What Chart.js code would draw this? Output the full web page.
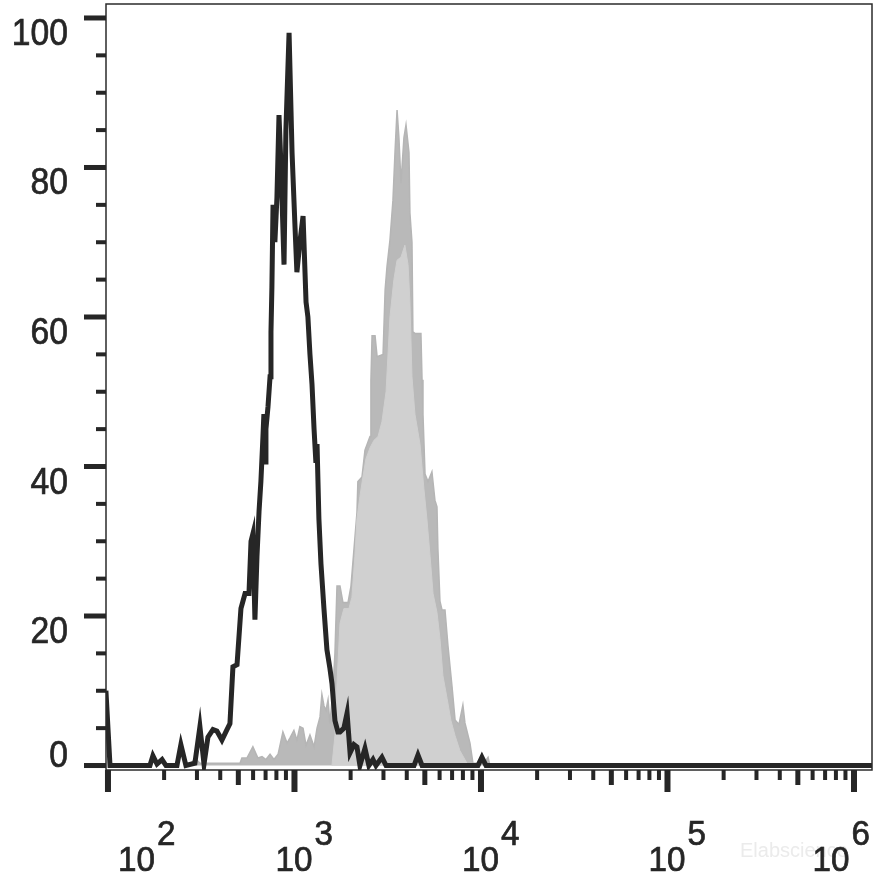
<!DOCTYPE html>
<html>
<head>
<meta charset="utf-8">
<script src="https://cdn.jsdelivr.net/npm/chart.js@4.4.1/dist/chart.umd.min.js"></script>
<style>
  html, body { margin: 0; padding: 0; background: #fff; }
  #wrap { width: 882px; height: 883px; position: relative; }
</style>
</head>
<body>
<div id="wrap"><canvas id="histo"></canvas></div>
<script>
// log10 of fluorescence intensity, and % of max
const blackLog = [
  1.989, 2.011, 2.225, 2.241, 2.263, 2.290, 2.311, 2.370, 2.391, 2.418,
  2.466, 2.493, 2.515, 2.536, 2.563, 2.584, 2.611, 2.638, 2.654, 2.670,
  2.692, 2.713, 2.735, 2.756, 2.767, 2.777, 2.788, 2.799, 2.810, 2.820,
  2.831, 2.836, 2.842, 2.847, 2.858, 2.869, 2.874, 2.879, 2.885, 2.895,
  2.906, 2.917, 2.928, 2.944, 2.954, 2.971, 2.987, 3.003, 3.013, 3.029,
  3.046, 3.062, 3.072, 3.083, 3.094, 3.105, 3.115, 3.121, 3.131, 3.142,
  3.158, 3.174, 3.190, 3.201, 3.217, 3.233, 3.244, 3.265, 3.282, 3.298,
  3.319, 3.335, 3.351, 3.378, 3.399, 3.421, 3.437, 3.469, 3.491, 3.641,
  3.662, 3.684, 3.984, 4.005, 4.027, 6.097
];
const blackCount = [
  10, 0, 0, 1.3, 0.2, 0.8, 0, 0, 2.8, 0,
  0.3, 5.2, 0.2, 3.8, 4.8, 4.6, 3.4, 4.8, 5.6, 13.2,
  13.5, 21, 23, 23, 30, 31, 19.5, 28, 34, 38,
  44, 47, 40.6, 45, 48, 52, 58, 64, 75, 70,
  76, 87, 80, 67, 85, 98, 82, 72, 66, 70,
  73.5, 62, 60, 55, 51, 45, 40.5, 43, 33, 27,
  21, 15.5, 13, 11, 6, 4.5, 4.5, 5, 7, 1.7,
  2.8, 2.5, 0, 2.3, 0, 0.8, 0, 1.1, 0, 0,
  1.4, 0, 0, 1.1, 0, 0
];

const grayLog = [
  2.440, 2.466, 2.493, 2.708, 2.718, 2.745, 2.777, 2.804, 2.826, 2.847,
  2.869, 2.890, 2.912, 2.938, 2.960, 2.976, 2.997, 3.013, 3.029, 3.046,
  3.062, 3.083, 3.105, 3.121, 3.137, 3.147, 3.158, 3.169, 3.180, 3.190,
  3.206, 3.217, 3.228, 3.244, 3.260, 3.287, 3.303, 3.314, 3.335, 3.340,
  3.362, 3.378, 3.405, 3.410, 3.416, 3.432, 3.443, 3.475, 3.486, 3.496,
  3.512, 3.528, 3.539, 3.550, 3.560, 3.571, 3.587, 3.598, 3.614, 3.619,
  3.630, 3.635, 3.646, 3.678, 3.684, 3.689, 3.700, 3.716, 3.737, 3.753,
  3.764, 3.769, 3.780, 3.791, 3.807, 3.823, 3.845, 3.861, 3.882, 3.903,
  3.914, 3.941, 3.957, 3.979, 4.005, 4.022, 4.038, 4.048
];
const grayCount = [
  0, 1, 0.3, 0.3, 1, 1, 2.5, 1, 1.2, 0.8,
  1.5, 0.8, 1.5, 4.5, 3, 3.7, 4.7, 3.4, 5.2, 5,
  2.7, 4.1, 2.5, 5, 6.5, 9.5, 8, 7.4, 8.8, 5.6,
  10, 15, 24, 24, 21.8, 21.8, 24, 27.4, 33.8, 38,
  38.6, 42.2, 44, 51.6, 57.5, 57.5, 54.7, 55, 63.6, 66.7,
  70.3, 75.6, 82, 87.7, 84, 77.9, 84, 85.7, 82, 73.9,
  70, 58, 57.8, 57.8, 51.6, 47, 39, 38, 39.3, 35.5,
  34.6, 29, 22, 20.8, 20.8, 16, 10.5, 6.1, 5.5, 8.1,
  5.7, 3, 0.3, 0.3, 1.4, 0.5, 1.1, 0
];

// lighter inner part of the gray histogram
const lightLog = [
  3.201, 3.217, 3.228, 3.244, 3.265, 3.292, 3.308, 3.324, 3.335, 3.351,
  3.367, 3.383, 3.405, 3.426, 3.448, 3.469, 3.491, 3.512, 3.533, 3.550,
  3.571, 3.592, 3.609, 3.619, 3.630, 3.646, 3.673, 3.694, 3.710, 3.727,
  3.743, 3.764, 3.780, 3.796, 3.818, 3.839, 3.861, 3.887, 3.925, 3.941
];
const lightCount = [
  0, 4, 11, 19, 21, 21, 22.5, 28, 33, 36,
  38.6, 41, 42.5, 43.5, 44, 46, 50, 60, 65, 67.6,
  68, 69.6, 67, 62, 52, 47, 43, 37, 33, 28,
  23, 20.5, 17, 12, 9, 6, 4, 2, 0.3, 0
];

const yMajorTicks = [0, 20, 40, 60, 80, 100];
const yTickLabels = ['0', '20', '40', '60', '80', '100'];
const xDecades = [2, 3, 4, 5, 6];
const xTickLabels = ['2', '3', '4', '5', '6'];

const ink = '#262626';
const fontFam = "'Liberation Sans', Arial, sans-serif";

function toPoints(logs, counts) {
    return logs.map((e, i) => ({ x: Math.pow(10, e), y: counts[i] }));
}

function putText(ctx, txt, x, y, size, sx, align, bold) {
    ctx.save();
    ctx.font = size + 'px ' + fontFam;
    ctx.textAlign = align;
    ctx.textBaseline = 'alphabetic';
    ctx.translate(x, y);
    ctx.scale(sx, 1);
    ctx.fillText(txt, 0, 0);
    if (bold) {
        ctx.lineWidth = bold;
        ctx.strokeStyle = ctx.fillStyle;
        ctx.strokeText(txt, 0, 0);
    }
    ctx.restore();
}

function textWidth(ctx, txt, size, sx) {
    ctx.save();
    ctx.font = size + 'px ' + fontFam;
    const w = ctx.measureText(txt).width * sx;
    ctx.restore();
    return w;
}

const axisArt = {
    id: 'axisArt',
    afterDraw(chart) {
        const ctx = chart.ctx;
        const xs = chart.scales.x;
        const ys = chart.scales.y;
        const a = chart.chartArea;
        ctx.save();

        // frame
        ctx.strokeStyle = '#2b2b2b';
        ctx.lineWidth = 1.5;
        ctx.strokeRect(a.left, a.top, a.right - a.left, a.bottom - a.top);

        ctx.fillStyle = ink;

        // y ticks, major every 20, minor every 5
        for (let v = 5; v < 100; v += 5) {
            if (v % 20 === 0) continue;
            const y = ys.getPixelForValue(v);
            ctx.fillRect(a.left - 10, y - 2, 10, 4);
        }
        yMajorTicks.forEach((v, i) => {
            const y = ys.getPixelForValue(v);
            ctx.fillRect(a.left - 22, y - 2.5, 22, 5);
            const base = Math.min(y + 27, a.bottom - 3);
            putText(ctx, yTickLabels[i], 68, base, 37, 0.91, 'right', 0.7);
        });

        // x ticks: decades, 5x, other minors
        xDecades.forEach(d => {
            const x = xs.getPixelForValue(Math.pow(10, d));
            ctx.fillRect(x - 3, a.bottom, 6, 22);
            if (d === 6) return;
            for (let k = 2; k <= 9; k++) {
                const xm = xs.getPixelForValue(k * Math.pow(10, d));
                if (k === 5) ctx.fillRect(xm - 2.5, a.bottom, 5, 15);
                else ctx.fillRect(xm - 2, a.bottom, 4, 10);
            }
        });

        // faint watermark
        ctx.fillStyle = '#ebebeb';
        putText(ctx, 'Elabscience', 740, 857, 20, 1, 'left', 0);

        // x labels 10^n
        ctx.fillStyle = ink;
        const fs = 35, sx = 0.95;
        xDecades.forEach((d, i) => {
            const x = xs.getPixelForValue(Math.pow(10, d));
            const wb = textWidth(ctx, '10', fs, sx);
            const ws = textWidth(ctx, xTickLabels[i], fs, sx);
            const total = wb + 2 + ws;
            let left = x - 19;
            if (left < 118) left = 118;
            if (left + total > 870) left = 870 - total;
            putText(ctx, '10', left, 871, fs, sx, 'left', 0.7);
            putText(ctx, xTickLabels[i], left + wb + 2, 845, fs, sx, 'left', 0.7);
        });

        ctx.restore();
    }
};

const histo = new Chart(document.getElementById('histo').getContext('2d'), {
    type: 'line',
    data: {
        datasets: [
            {
                label: 'Control',
                data: toPoints(blackLog, blackCount),
                borderColor: '#262626',
                borderWidth: 5,
                fill: false,
                order: 0
            },
            {
                label: 'Stained core',
                data: toPoints(lightLog, lightCount),
                borderColor: '#d0d0d0',
                backgroundColor: '#d0d0d0',
                borderWidth: 1,
                fill: 'origin',
                order: 1
            },
            {
                label: 'Stained',
                data: toPoints(grayLog, grayCount),
                borderColor: '#b5b5b5',
                backgroundColor: '#b9b9b9',
                borderWidth: 1.5,
                fill: 'origin',
                order: 2
            }
        ]
    },
    options: {
        animation: false,
        responsive: true,
        maintainAspectRatio: false,
        layout: { padding: { left: 106, top: 4, right: 10, bottom: 113 } },
        elements: {
            point: { radius: 0 },
            line: { tension: 0 }
        },
        plugins: {
            legend: { display: false },
            tooltip: { enabled: false }
        },
        scales: {
            x: { type: 'logarithmic', display: false, min: 97.6, max: 1249000 },
            y: { type: 'linear', display: false, min: -0.6, max: 101.87 }
        }
    },
    plugins: [axisArt]
});
</script>
</body>
</html>
